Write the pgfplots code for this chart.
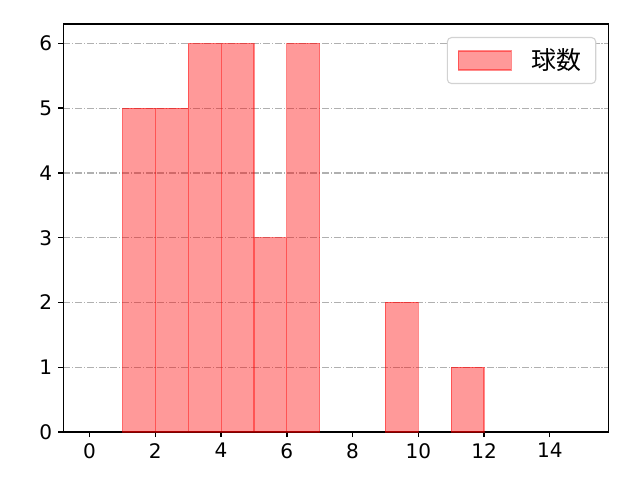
\documentclass[border=0pt]{standalone}
\usepackage{pgfplots}
\pgfplotsset{compat=1.18}
\usepackage{fontspec}
\setmainfont{DejaVu Sans}
\newfontfamily\jp{Noto Sans CJK JP}
\definecolor{barred}{HTML}{FF0000}
\definecolor{gridgray}{HTML}{B0B0B0}
\begin{document}
\begin{tikzpicture}
\path[use as bounding box] (-0.633in,-0.48in) rectangle (5.767in,4.32in);
\begin{axis}[
  scale only axis,
  width=5.45in, height=4.08in,
  xmin=-0.8, xmax=15.78,
  ymin=0, ymax=6.3,
  xtick={0,2,...,14},
  ytick={0,1,...,6},
  tick align=outside,
  major tick length=0.05in,
  xtick pos=bottom, ytick pos=left,
  axis line style={line width=1pt},
  every tick/.style={black, line width=1pt},
  ymajorgrids=true,
  grid style={gridgray, line width=0.8pt, dash pattern=on 5.1pt off 1.3pt on 0.8pt off 1.3pt},
  tick label style={font=\fontsize{14.5}{17}\selectfont},
  xticklabel style={yshift=-1pt},
  yticklabel style={xshift=-1pt},
  /pgf/number format/assume math mode=true,
  legend style={font=\jp\fontsize{18}{21}\selectfont, draw=gray!35, rounded corners=3pt,
    line width=0.8pt, at={(1,1)}, anchor=north east, xshift=-0.12in, yshift=-0.13in,
    inner xsep=0pt, inner ysep=0pt, nodes={inner sep=0pt}},
  legend cell align=left,
  legend image code/.code={
    \draw[#1, sharp corners] (0in,-0.095in) rectangle (0.53in,0.095in);
    \path[draw=none, fill=none] (-0.11in,-0.23in) rectangle (0.53in,0.23in);},
]
\addplot[ybar interval, fill=barred, fill opacity=0.4, draw=barred, draw opacity=0.45, line width=0.8pt]
  coordinates {(1,5)(2,5)(3,6)(4,6)(5,3)(6,6)(7,0)};
\addlegendentry{\kern0.2in 球数\kern0.14in\null}
\addplot[ybar interval, fill=barred, fill opacity=0.4, draw=barred, draw opacity=0.45, line width=0.8pt, forget plot]
  coordinates {(9,2)(10,0)};
\addplot[ybar interval, fill=barred, fill opacity=0.4, draw=barred, draw opacity=0.45, line width=0.8pt, forget plot]
  coordinates {(11,1)(12,0)};
\end{axis}
\end{tikzpicture}
\end{document}
